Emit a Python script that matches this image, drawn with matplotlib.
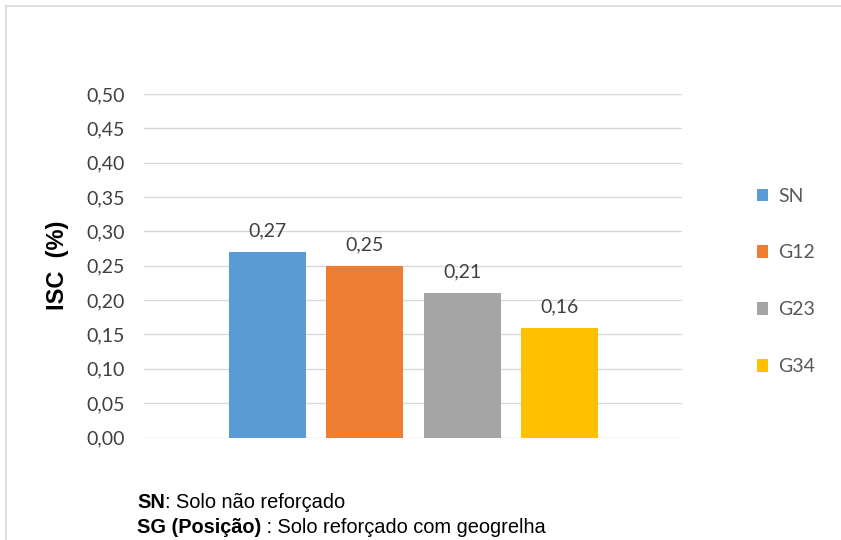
import matplotlib.pyplot as plt
from matplotlib.lines import Line2D

# ISC per configuration
series = ["SN", "G12", "G23", "G34"]
isc = [0.27, 0.25, 0.21, 0.16]
colors = ["#5B9BD5", "#ED7D31", "#A5A5A5", "#FFC000"]
yticks = [0.00, 0.05, 0.10, 0.15, 0.20, 0.25, 0.30, 0.35, 0.40, 0.45, 0.50]

num_font = "Lato"

fig = plt.figure(figsize=(8.41, 5.40), dpi=100)
ax = fig.add_axes([0.1712, 0.1898, 0.811 - 0.1712, 0.8259 - 0.1898])

x = list(range(len(series)))
bars = ax.bar(x, isc, width=0.79, color=colors, label=series, zorder=3)

for xi, v in zip(x, isc):
    ax.text(xi, v + 0.018, f"{v:.2f}".replace(".", ","), ha="center", va="bottom",
            fontsize=14, family=num_font, color="#404040")

ax.set_xlim(-1.27, 4.26)
ax.set_ylim(0, 0.5)
ax.set_yticks(yticks)
ax.set_yticklabels([f"{t:.2f}".replace(".", ",") for t in yticks],
                   fontsize=14, family=num_font, color="#404040")
ax.set_xticks([])
ax.tick_params(axis="y", length=0, pad=14)
ax.grid(axis="y", color="#D9D9D9", linewidth=1, zorder=0)
for s in ax.spines.values():
    s.set_visible(False)

ax.set_ylabel("ISC  (%)", fontsize=17, fontweight="bold", family="Liberation Sans",
              labelpad=12)

leg = fig.legend(handles=bars, labels=series, loc="upper left",
                 bbox_to_anchor=(0.879, 0.685), frameon=False,
                 prop={"family": num_font, "size": 14}, labelspacing=2.05,
                 handlelength=0.6, handleheight=0.6, handletextpad=0.5)
for t in leg.get_texts():
    t.set_color("#595959")

# notes under the chart
fs_note = 14.4
t1 = fig.text(0.163, 0.07, "SN", fontsize=fs_note, family="Liberation Sans",
              fontweight="bold", va="center")
t2 = fig.text(0.163, 0.024, "SG (Posição)", fontsize=fs_note, family="Liberation Sans",
              fontweight="bold", va="center")
fig.canvas.draw()
r = fig.canvas.get_renderer()
bb1 = t1.get_window_extent(r)
bb2 = t2.get_window_extent(r)
fig.text(bb1.x1 / fig.bbox.width, 0.07, ": Solo não reforçado", fontsize=fs_note,
         family="Liberation Sans", va="center")
fig.text(bb2.x1 / fig.bbox.width, 0.024, " : Solo reforçado com geogrelha", fontsize=fs_note,
         family="Liberation Sans", va="center")

# chart area border
fig.add_artist(Line2D([0.007, 1.0], [0.989, 0.989], color="#D9D9D9", lw=1.2,
                      transform=fig.transFigure))
fig.add_artist(Line2D([0.007, 0.007], [0.0, 0.989], color="#D9D9D9", lw=1.2,
                      transform=fig.transFigure))

fig.savefig("out.png", dpi=100)
